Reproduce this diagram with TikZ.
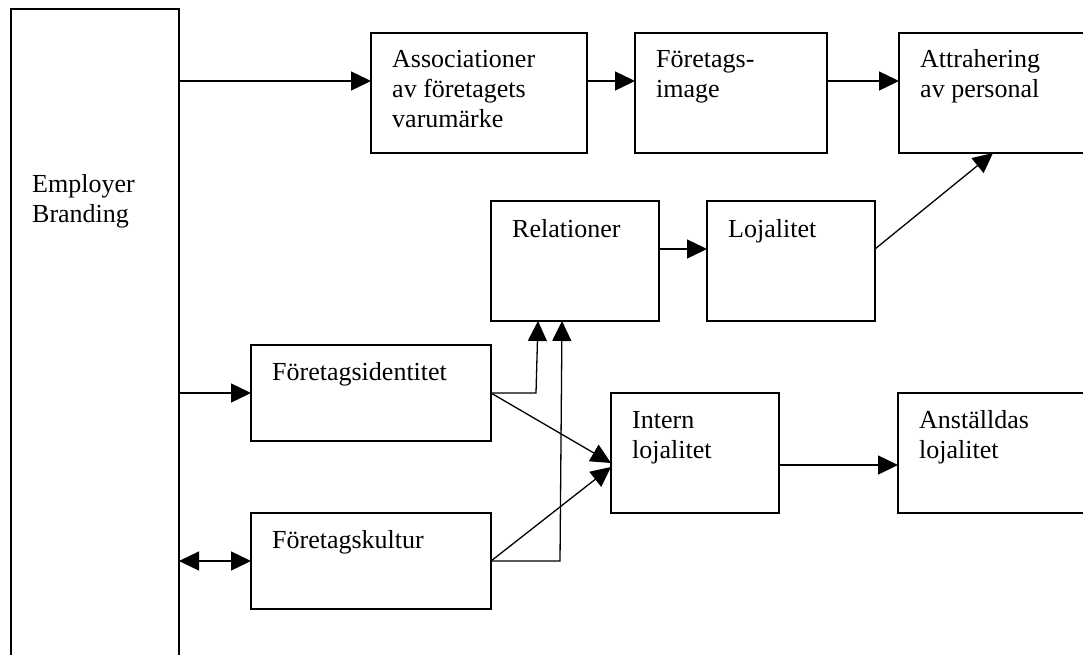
\documentclass[tikz,border=0pt]{standalone}
\usepackage{fontspec}
\setmainfont{Liberation Serif}
\usetikzlibrary{arrows.meta,calc}
\tikzset{
  box/.style={draw, line width=1.5pt, inner sep=0pt, outer sep=0pt, anchor=north west},
  txt/.style={inner sep=0pt, anchor=base west, font=\fontsize{26}{30}\selectfont},
  arr/.style={line width=1.3pt, -{Triangle[length=20pt,width=19pt]}},
  darr/.style={line width=1.3pt, {Triangle[length=20pt,width=19pt]}-{Triangle[length=20pt,width=19pt]}},
}
\newcommand{\lines}[1]{\parbox[t]{8cm}{#1}}
\begin{document}
\begin{tikzpicture}[x=1pt, y=-1pt]
  \useasboundingbox (0,0) rectangle (1083,655);
  \clip (0,0) rectangle (1083,655);

  % boxes
  \node[box, minimum width=168pt, minimum height=720pt] (eb) at (11,9) {};
  \node[box, minimum width=216pt, minimum height=120pt] (assoc) at (371,33) {};
  \node[box, minimum width=192pt, minimum height=120pt] (fimage) at (635,33) {};
  \node[box, minimum width=300pt, minimum height=120pt] (attr) at (899,33) {};
  \node[box, minimum width=168pt, minimum height=120pt] (rel) at (491,201) {};
  \node[box, minimum width=168pt, minimum height=120pt] (loj) at (707,201) {};
  \node[box, minimum width=240pt, minimum height=96pt] (fid) at (251,345) {};
  \node[box, minimum width=240pt, minimum height=96pt] (fkul) at (251,513) {};
  \node[box, minimum width=168pt, minimum height=120pt] (intern) at (611,393) {};
  \node[box, minimum width=300pt, minimum height=120pt] (anst) at (898,393) {};

  % labels
  \node[txt] (ebT) at ($(eb.north west)+(21,183)$) {\lines{Employer\\Branding}};
  \node[txt] (assocT) at ($(assoc.north west)+(21,35)$) {\lines{Associationer\\av företagets\\varumärke}};
  \node[txt] (fimageT) at ($(fimage.north west)+(21,35)$) {\lines{Företags-\\image}};
  \node[txt] (attrT) at ($(attr.north west)+(21,35)$) {\lines{Attrahering\\av personal}};
  \node[txt] (relT) at ($(rel.north west)+(21,36)$) {\lines{Relationer}};
  \node[txt] (lojT) at ($(loj.north west)+(21,36)$) {\lines{Lojalitet}};
  \node[txt] (fidT) at ($(fid.north west)+(21,35)$) {\lines{Företagsidentitet}};
  \node[txt] (fkulT) at ($(fkul.north west)+(21,35)$) {\lines{Företagskultur}};
  \node[txt] (internT) at ($(intern.north west)+(21,35)$) {\lines{Intern\\lojalitet}};
  \node[txt] (anstT) at ($(anst.north west)+(21,35)$) {\lines{Anställdas\\lojalitet}};

  % connector anchor points
  \coordinate (topRow) at ($(assoc.north west)+(0,48)$);
  \coordinate (midRow) at ($(rel.north east)+(0,48)$);
  \coordinate (relIn1) at ($(rel.south west)+(47,0)$);
  \coordinate (relIn2) at ($(rel.south west)+(71,0)$);
  \coordinate (attrIn) at ($(attr.south west)+(94,0)$);

  % connectors
  \draw[arr] (eb.east |- topRow) -- (topRow);
  \draw[arr] (assoc.east |- topRow) -- (fimage.west |- topRow);
  \draw[arr] (fimage.east |- topRow) -- (attr.west |- topRow);
  \draw[arr] (midRow) -- (loj.west |- midRow);
  \draw[arr] (loj.east |- midRow) -- (attrIn);
  \draw[arr] (eb.east |- fid.west) -- (fid.west);
  \draw[darr] (eb.east |- fkul.west) -- (fkul.west);
  \draw[arr] (fid.east) -- ++(45,0) -- (relIn1);
  \draw[arr] (fkul.east) -- ++(69,0) -- (relIn2);
  \draw[arr] (fid.east) -- ($(intern.west)+(0,10)$);
  \draw[arr] (fkul.east) -- ($(intern.west)+(0,14)$);
  \draw[arr] ($(intern.east)+(0,12)$) -- ($(anst.west)+(0,12)$);
\end{tikzpicture}
\end{document}
